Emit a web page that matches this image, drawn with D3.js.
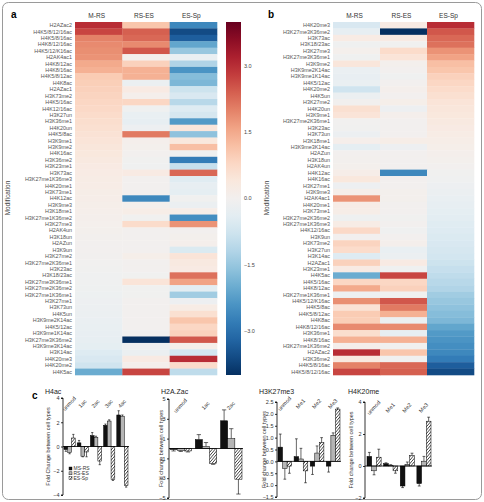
<!DOCTYPE html>
<html>
<head>
<meta charset="utf-8">
<script src="https://cdn.jsdelivr.net/npm/d3@7"></script>
<style>
body { margin: 0; background: #fff; }
svg text { font-family: "Liberation Sans", Arial, sans-serif; }
</style>
</head>
<body>
<div class="container"></div>
<script>
// heatmap data (panel a order, sorted by M-RS)
var modifications = ["H2AZac2", "H4K5/8/12/16ac", "H4K5/8/16ac", "H4K8/12/16ac", "H4K5/12/K16ac", "H2AK4ac1",
    "H4K8/12ac", "H4K8/16ac", "H4K5/8/12ac", "H4K8ac", "H2AZac1", "H3K73me2", "H4K5/16ac", "H4K12/16ac",
    "H3K27un", "H3K36me1", "H4K20un", "H4K5/8ac", "H3K9me1", "H3K9me2", "H4K16ac", "H3K36me2", "H3K23me1",
    "H3K73ac", "H3K27me1K36me3", "H4K20me1", "H3K73me1", "H4K12ac", "H3K9me3", "H3K18me1", "H3K27me1K36me2",
    "H3K27me3", "H2AK4un", "H3K18un", "H2AZun", "H3K9un", "H3K27me2", "H3K27me2K36me1", "H3K23ac",
    "H3K18/23ac", "H3K27me3K36me1", "H3K27me2K36me2", "H3K27me1K36me1", "H3K27me1", "H3K73un", "H4K5un",
    "H3K9me2K14ac", "H4K5/12ac", "H3K9me1K14ac", "H3K27me3K36me2", "H3K9me3K14ac", "H3K14ac", "H4K20me3",
    "H4K20me2", "H4K5ac"];
var mRS = [3.0, 2.7, 2.0, 1.9, 1.85, 1.8, 1.5, 1.4, 1.0, 0.95, 0.9, 0.85, 0.8, 0.75, 0.7, 0.65, 0.6, 0.55,
    0.5, 0.45, 0.4, 0.35, 0.3, 0.28, 0.25, 0.22, 0.2, 0.18, 0.15, 0.12, 0.1, 0.08, 0.05, 0.03, 0.01, 0.0,
    -0.02, -0.04, -0.06, -0.08, -0.1, -0.12, -0.14, -0.16, -0.18, -0.2, -0.22, -0.25, -0.28, -0.3, -0.35,
    -0.5, -0.6, -0.75, -2.0];
var rsES = [1.1, 2.4, 2.3, 1.9, 2.5, 0.05, 0.9, 1.4, 1.4, -0.2, 0.3, 0.1, 0.8, -0.1, -0.25, -0.3, -0.15, 2.1,
    0.1, 0.05, 0.0, -0.05, -0.1, 0.3, 0.0, 0.0, 0.0, -2.6, 0.05, 0.2, -0.05, 0.7, 0.0, 0.0, 0.0, 0.0, 0.15,
    0.0, 0.0, -0.05, 0.5, -0.05, -0.05, 0.0, 0.0, 0.0, 0.0, 0.0, -0.1, -4.0, -0.15, -0.2, 0.3, 0.1, 2.7];
var esSp = [-2.6, -3.6, -3.3, -2.1, -1.5, -0.25, -1.2, -2.4, -1.7, -1.8, -0.8, -0.6, -1.1, -0.5, -0.65, -2.3,
    0.45, -1.6, 0.4, 1.2, -0.1, -2.8, -0.9, 2.3, -0.45, -0.3, -0.35, -0.05, -0.2, 0.2, -2.5, 1.8, 0.0, 0.05,
    0.1, -0.55, 0.5, 0.35, 0.3, 2.2, 1.6, -0.4, -1.4, -0.15, 0.25, 0.6, 1.1, 0.8, 0.9, 2.5, 0.15, -0.7, 3.0,
    0.7, -1.0];
var conditions = ["M-RS", "RS-ES", "ES-Sp"];
var colorTicks = [3, 1.5, 0, -1.5, -3];

// bar chart data (panel c)
var legendLabels = ["MS-RS", "RS-ES", "ES-Sp"];

var h4acCats = ["unmod", "1ac", "2ac", "3ac", "4ac"];
var h4acMRS = [-0.25, 0.3, 0.9, 1.75, 2.6];
var h4acRSES = [-0.5, -0.8, 0.75, 2.1, 2.5];
var h4acESSp = [0.7, -0.45, -1.2, -2.7, -3.2];
var h4acErr = [[0.15, 0.2, 0.25, 0.1, 0.35], [0.1, 0.05, 0.1, 0.1, 0.1], [0.3, 0.4, 0.3, 0.1, 0.15]];

var h2azCats = ["unmod", "1ac", "2ac"];
var h2azMRS = [-0.1, 0.9, 2.8];
var h2azRSES = [-0.2, 0.2, 1.0];
var h2azESSp = [-0.25, -1.5, -3.1];
var h2azErr = [[0.15, 0.5, 1.1], [0.1, 0.4, 1.0], [0.1, 0.1, 1.5]];

var h3k27Cats = ["unmod", "Me1", "Me2", "Me3"];
var h3k27MRS = [0.6, 0.2, -0.2, -0.2];
var h3k27RSES = [-0.3, 0.1, 0.35, 1.1];
var h3k27ESSp = [-0.2, -0.4, 0.8, 2.2];
var h3k27Err = [[0.55, 0.75, 0.35, 0.25], [0.45, 0.45, 0.3, 0.1], [0.3, 0.5, 0.2, 0.05]];

var h4k20Cats = ["unmod", "Me1", "Me2", "Me3"];
var h4k20MRS = [0.6, 0.15, -1.25, -1.1];
var h4k20RSES = [-0.3, 0.05, 0.1, 0.3];
var h4k20ESSp = [0.55, -0.3, 0.65, 2.8];
var h4k20Err = [[0.25, 0.05, 0.1, 0.15], [0.25, 0.03, 0.15, 0.3], [0.5, 0.15, 0.15, 0.25]];

document.addEventListener('DOMContentLoaded', function () {
    var svg = d3.select(".container").append("svg")
        .attr("width", 484)
        .attr("height", 502);

    svg.append("rect")
        .attr("x", 2.5).attr("y", 2.5)
        .attr("width", 479).attr("height", 497)
        .attr("rx", 6)
        .attr("fill", "none")
        .attr("stroke", "#9a9a9a")
        .attr("stroke-width", 1);

    var color = d3.scaleSequential(d3.interpolateRdBu).domain([4, -4]);

    var rows = modifications.map(function (m, i) {
        return { name: m, values: [mRS[i], rsES[i], esSp[i]] };
    });
    var rowsB = rows.slice().sort(function (a, b) {
        return d3.descending(a.values[2], b.values[2]);
    });

    function heatmap(data, left, right, letter, letterX, ylabX) {
        var y = d3.scaleBand().domain(data.map(function (d) { return d.name; })).range([22, 375]);
        var x = d3.scaleBand().domain(conditions).range([left, right]);
        var g = svg.append("g");

        var row = g.selectAll("g.row").data(data).enter().append("g")
            .attr("transform", function (d) { return "translate(0," + y(d.name) + ")"; });
        row.selectAll("rect").data(function (d) { return d.values; }).enter().append("rect")
            .attr("x", function (d, i) { return x(conditions[i]); })
            .attr("width", x.bandwidth() + 0.3)
            .attr("height", y.bandwidth() + 0.3)
            .attr("fill", function (d) { return color(d); });
        row.append("text")
            .attr("x", left - 3)
            .attr("y", y.bandwidth() / 2)
            .attr("dy", "0.35em")
            .attr("text-anchor", "end")
            .attr("font-size", 5.4)
            .attr("fill", "#555")
            .text(function (d) { return d.name; });

        g.selectAll("text.col").data(conditions).enter().append("text")
            .attr("x", function (d) { return x(d) + x.bandwidth() / 2 - 2; })
            .attr("y", 18)
            .attr("text-anchor", "middle")
            .attr("font-size", 6.5)
            .attr("fill", "#333")
            .text(function (d) { return d; });

        g.append("text")
            .attr("x", letterX).attr("y", 18)
            .attr("font-size", 10).attr("font-weight", "bold")
            .text(letter);

        g.append("text")
            .attr("transform", "translate(" + ylabX + ",198) rotate(-90)")
            .attr("text-anchor", "middle")
            .attr("font-size", 6.5)
            .attr("fill", "#444")
            .text("Modification");
    }

    heatmap(rows, 75, 217, "a", 11, 10);
    heatmap(rowsB, 333, 474, "b", 268, 269);

    // colour bar
    var cbY = d3.scaleLinear().domain([4, -4]).range([22, 375]);
    var grad = svg.append("defs").append("linearGradient")
        .attr("id", "cbar").attr("x1", 0).attr("x2", 0).attr("y1", 0).attr("y2", 1);
    d3.range(0, 1.0001, 0.05).forEach(function (t) {
        grad.append("stop").attr("offset", t).attr("stop-color", color(4 - 8 * t));
    });
    svg.append("rect")
        .attr("x", 226).attr("y", 22)
        .attr("width", 15).attr("height", 353)
        .attr("fill", "url(#cbar)");
    svg.selectAll("text.cb").data(colorTicks).enter().append("text")
        .attr("x", 244)
        .attr("y", function (d) { return cbY(d); })
        .attr("dy", "0.35em")
        .attr("font-size", 5.5)
        .attr("fill", "#444")
        .text(d3.format(".1f"));

    // hatch pattern for ES-Sp bars
    var pat = svg.select("defs").append("pattern")
        .attr("id", "hatch")
        .attr("patternUnits", "userSpaceOnUse")
        .attr("width", 2.2).attr("height", 2.2)
        .attr("patternTransform", "rotate(40)");
    pat.append("rect").attr("width", 2.2).attr("height", 2.2).attr("fill", "#fff");
    pat.append("line").attr("x1", 0).attr("y1", 0).attr("x2", 0).attr("y2", 2.2)
        .attr("stroke", "#000").attr("stroke-width", 1.1);

    var barFill = ["#111", "#b5b5b5", "url(#hatch)"];

    svg.append("text")
        .attr("x", 32).attr("y", 399)
        .attr("font-size", 10).attr("font-weight", "bold")
        .text("c");

    var panels = [
        { title: "H4ac", cats: h4acCats, series: [h4acMRS, h4acRSES, h4acESSp], err: h4acErr,
          domain: [-4, 4], ticks: [-4, -2, 0, 2, 4], fmt: d3.format("d"), top: 398, bottom: 495,
          axisX: 63, x0: 64, x1: 128, titleX: 45, ylabX: 50, ylab: "Fold Change between cell types",
          labY: 405, legend: true },
        { title: "H2A.Zac", cats: h2azCats, series: [h2azMRS, h2azRSES, h2azESSp], err: h2azErr,
          domain: [-5, 5], ticks: [-5, -3, -1, 1, 3, 5], fmt: d3.format("d"), top: 399, bottom: 498,
          axisX: 169, x0: 170, x1: 242, titleX: 161, ylabX: 163, ylab: "Fold change between cell types",
          labY: 407 },
        { title: "H3K27me3", cats: h3k27Cats, series: [h3k27MRS, h3k27RSES, h3k27ESSp], err: h3k27Err,
          domain: [-1.5, 2.5], ticks: d3.range(-1.5, 2.51, 0.5), fmt: d3.format(".1f"), top: 402, bottom: 497,
          axisX: 277, x0: 278, x1: 340, titleX: 259, ylabX: 266, ylab: "Fold change between cell types",
          labY: 405 },
        { title: "H4K20me", cats: h4k20Cats, series: [h4k20MRS, h4k20RSES, h4k20ESSp], err: h4k20Err,
          domain: [-2, 4], ticks: [-2, 0, 2, 4], fmt: d3.format("d"), top: 402, bottom: 498,
          axisX: 365, x0: 367, x1: 431, titleX: 348, ylabX: 353, ylab: "Fold change between cell types",
          labY: 409 }
    ];

    panels.forEach(function (p) {
        var g = svg.append("g");
        var x = d3.scaleBand().domain(p.cats).range([p.x0, p.x1]).paddingInner(0.15);
        var xs = d3.scaleBand().domain([0, 1, 2]).range([0, x.bandwidth()]);
        var y = d3.scaleLinear().domain(p.domain).range([p.bottom, p.top]);

        var bars = [];
        p.series.forEach(function (vals, s) {
            vals.forEach(function (v, i) {
                bars.push({ cat: p.cats[i], s: s, v: v, e: p.err[s][i] });
            });
        });

        // error bars, drawn away from zero
        var eb = g.selectAll("g.err").data(bars).enter().append("g")
            .attr("stroke", "#000").attr("stroke-width", 0.6);
        eb.append("line")
            .attr("x1", function (d) { return x(d.cat) + xs(d.s) + xs.bandwidth() / 2; })
            .attr("x2", function (d) { return x(d.cat) + xs(d.s) + xs.bandwidth() / 2; })
            .attr("y1", function (d) { return y(d.v); })
            .attr("y2", function (d) { return y(d.v + (d.v < 0 ? -d.e : d.e)); });
        eb.append("line")
            .attr("x1", function (d) { return x(d.cat) + xs(d.s) + xs.bandwidth() * 0.2; })
            .attr("x2", function (d) { return x(d.cat) + xs(d.s) + xs.bandwidth() * 0.8; })
            .attr("y1", function (d) { return y(d.v + (d.v < 0 ? -d.e : d.e)); })
            .attr("y2", function (d) { return y(d.v + (d.v < 0 ? -d.e : d.e)); });

        g.selectAll("rect.bar").data(bars).enter().append("rect")
            .attr("x", function (d) { return x(d.cat) + xs(d.s); })
            .attr("width", xs.bandwidth())
            .attr("y", function (d) { return y(Math.max(0, d.v)); })
            .attr("height", function (d) { return Math.abs(y(d.v) - y(0)); })
            .attr("fill", function (d) { return barFill[d.s]; })
            .attr("stroke", "#000")
            .attr("stroke-width", 0.5);

        g.append("line")
            .attr("x1", p.axisX).attr("x2", p.x1 + 1)
            .attr("y1", y(0)).attr("y2", y(0))
            .attr("stroke", "#000").attr("stroke-width", 0.8);

        var ax = g.append("g")
            .attr("transform", "translate(" + p.axisX + ",0)")
            .call(d3.axisLeft(y).tickValues(p.ticks).tickSize(2).tickPadding(1.5).tickFormat(p.fmt));
        ax.selectAll("text").attr("font-size", 5.5).attr("fill", "#333").style("font-family", '"Liberation Sans", Arial, sans-serif');
        ax.selectAll("path, line").attr("stroke-width", 0.8);
        ax.select(".domain").attr("d", "M-2," + p.bottom + "H0V" + p.top + "H-2");

        g.selectAll("text.cat").data(p.cats).enter().append("text")
            .attr("transform", function (d) {
                return "translate(" + (x(d) + x.bandwidth() / 2 + 1) + "," + p.labY + ") rotate(-48)";
            })
            .attr("text-anchor", "middle")
            .attr("font-size", 5.5)
            .attr("fill", "#333")
            .text(function (d) { return d; });

        g.append("text")
            .attr("x", p.titleX).attr("y", 394)
            .attr("font-size", 7)
            .attr("fill", "#222")
            .text(p.title);

        g.append("text")
            .attr("transform", "translate(" + p.ylabX + "," + ((p.top + p.bottom) / 2) + ") rotate(-90)")
            .attr("text-anchor", "middle")
            .attr("font-size", 5.5)
            .attr("fill", "#333")
            .text(p.ylab);

        if (p.legend) {
            var lg = g.selectAll("g.leg").data(legendLabels).enter().append("g")
                .attr("transform", function (d, i) { return "translate(69," + (467 + i * 4.8) + ")"; });
            lg.append("rect")
                .attr("width", 3).attr("height", 3)
                .attr("fill", function (d, i) { return barFill[i]; })
                .attr("stroke", "#000").attr("stroke-width", 0.4);
            lg.append("text")
                .attr("x", 4.5).attr("y", 2.9)
                .attr("font-size", 5)
                .attr("fill", "#333")
                .text(function (d) { return d; });
        }
    });
});
</script>
</body>
</html>
